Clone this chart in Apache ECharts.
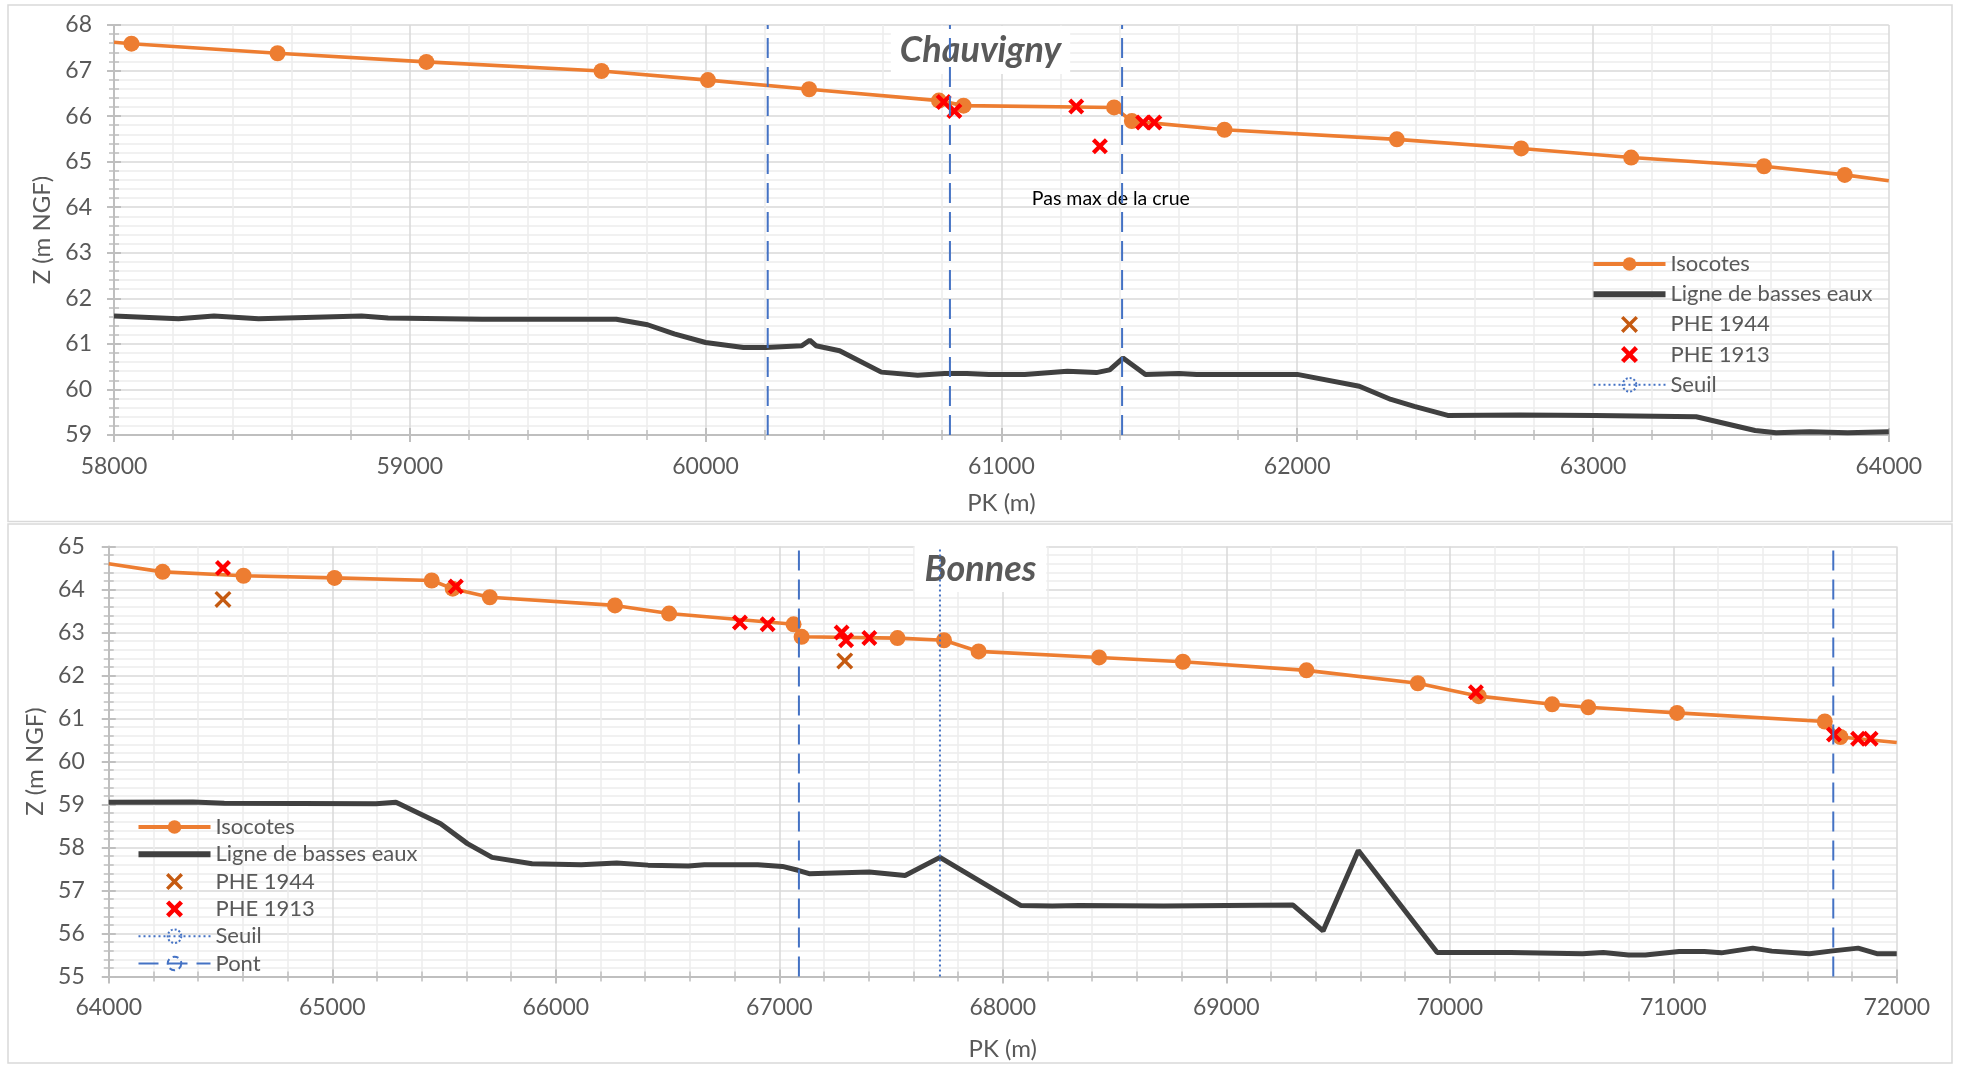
<!DOCTYPE html>
<html><head><meta charset="utf-8">
<script src="https://cdn.jsdelivr.net/npm/echarts@6/dist/echarts.min.js"></script>
<style>html,body{margin:0;padding:0;background:#fff}#c{width:1961px;height:1065px}</style>
</head><body><div id="c"></div>
<script>
// ---------- DATA ----------
// Chauvigny (top)
const topTitle = 'Chauvigny';
const topXRange = [58000, 64000];
const topYRange = [59, 68];
const topIsoX = [58000, 58059, 58553, 59056, 59648, 60008, 60350, 60789, 60872, 61381, 61441, 61754, 62337, 62757, 63129, 63578, 63851, 64000];
const topIsoY = [67.62, 67.59, 67.38, 67.19, 66.99, 66.79, 66.59, 66.34, 66.23, 66.19, 65.89, 65.70, 65.49, 65.29, 65.09, 64.90, 64.71, 64.58];
const topLowX = [58000, 58218, 58338, 58489, 58837, 58927, 59245, 59698, 59804, 59894, 60000, 60128, 60204, 60325, 60352, 60373, 60453, 60594, 60717, 60808, 60883, 60958, 61079, 61223, 61321, 61366, 61411, 61487, 61600, 61660, 61804, 62000, 62210, 62317, 62396, 62509, 62751, 63007, 63349, 63548, 63619, 63733, 63861, 64000];
const topLowY = [61.61, 61.55, 61.61, 61.55, 61.61, 61.57, 61.54, 61.54, 61.42, 61.22, 61.03, 60.92, 60.92, 60.96, 61.08, 60.96, 60.85, 60.38, 60.31, 60.35, 60.35, 60.33, 60.33, 60.40, 60.37, 60.43, 60.69, 60.33, 60.35, 60.33, 60.33, 60.33, 60.07, 59.78, 59.63, 59.43, 59.44, 59.43, 59.40, 59.10, 59.05, 59.07, 59.05, 59.07];
const topPhe1913X = [60805, 60841, 61253, 61333, 61479, 61517];
const topPhe1913Y = [66.31, 66.11, 66.21, 65.34, 65.86, 65.86];
const topPontX = [60210, 60826, 61408];
const topNote = {text: 'Pas max de la crue', x: 61370, y: 64.19};

// Bonnes (bottom)
const botTitle = 'Bonnes';
const botXRange = [64000, 72000];
const botYRange = [55, 65];
const botIsoX = [64000, 64241, 64603, 65010, 65445, 65539, 65705, 66265, 66507, 67064, 67100, 67529, 67737, 67892, 68431, 68806, 69359, 69857, 70130, 70458, 70620, 71017, 71678, 71748, 72000];
const botIsoY = [64.60, 64.41, 64.32, 64.27, 64.21, 64.02, 63.82, 63.63, 63.44, 63.19, 62.90, 62.87, 62.82, 62.56, 62.42, 62.32, 62.12, 61.82, 61.52, 61.33, 61.26, 61.13, 60.93, 60.57, 60.44];
const botLowX = [64000, 64377, 64517, 65196, 65285, 65485, 65605, 65715, 65894, 66114, 66273, 66413, 66593, 66665, 66904, 67014, 67084, 67134, 67403, 67563, 67719, 68082, 68222, 68341, 68720, 69000, 69299, 69433, 69591, 69944, 70273, 70593, 70687, 70800, 70875, 71026, 71139, 71215, 71356, 71441, 71610, 71704, 71827, 71911, 72000];
const botLowY = [59.05, 59.06, 59.03, 59.02, 59.05, 58.55, 58.09, 57.77, 57.62, 57.60, 57.64, 57.59, 57.57, 57.60, 57.60, 57.56, 57.47, 57.39, 57.43, 57.35, 57.77, 56.65, 56.64, 56.65, 56.64, 56.65, 56.66, 56.06, 57.93, 55.56, 55.56, 55.53, 55.56, 55.50, 55.50, 55.58, 55.58, 55.55, 55.66, 55.59, 55.53, 55.59, 55.66, 55.53, 55.53];
const botPhe1913X = [64511, 65553, 66824, 66948, 67279, 67299, 67403, 70117, 71719, 71827, 71883];
const botPhe1913Y = [64.50, 64.07, 63.23, 63.19, 63.00, 62.82, 62.87, 61.61, 60.63, 60.53, 60.53];
const botPhe1944X = [64511, 67293];
const botPhe1944Y = [63.77, 62.34];
const botPontX = [67088, 71716];
const botSeuilX = [67719];

const xName = 'PK (m)';
const yName = 'Z (m NGF)';
const topLegend = ['Isocotes', 'Ligne de basses eaux', 'PHE 1944', 'PHE 1913', 'Seuil'];
const botLegend = ['Isocotes', 'Ligne de basses eaux', 'PHE 1944', 'PHE 1913', 'Seuil', 'Pont'];

// ---------- STYLE ----------
const FONT = 'Lato';
const TXT = '#595959';
const AXIS = '#BFBFBF';
const GMAJ = '#D9D9D9';
const GMIN = '#EDEDED';
const ORANGE = '#ED7D31', DARK = '#404040', RED = '#FF0000', BROWN = '#C55A11', BLUE = '#4472C4';
const CROSS_RED = 'path://M0,3 L3,0 L8,5 L13,0 L16,3 L11,8 L16,13 L13,16 L8,11 L3,16 L0,13 L5,8 Z';
const CROSS_BROWN = 'path://M0,2.3 L2.3,0 L8,5.7 L13.7,0 L16,2.3 L10.3,8 L16,13.7 L13.7,16 L8,10.3 L2.3,16 L0,13.7 L5.7,8 Z';
const legendLook = {
  'Isocotes': {lineStyle: {width: 4}},
  'Ligne de basses eaux': {lineStyle: {width: 6}},
  'Seuil': {lineStyle: {width: 2}, itemStyle: {borderType: [2, 2], borderWidth: 2}},
  'Pont': {lineStyle: {width: 2}, itemStyle: {borderType: [6, 4], borderWidth: 2}}
};

const zip = (xs, ys) => xs.map((x, i) => [x, ys[i]]);

function mainX(g, range, nameGap) {
  return {
    type: 'value', gridIndex: g, min: range[0], max: range[1], interval: 1000, position: 'bottom',
    name: xName, nameLocation: 'middle', nameGap: nameGap,
    nameTextStyle: {fontFamily: FONT, fontSize: 24, color: TXT},
    axisLine: {show: true, onZero: false, lineStyle: {color: AXIS, width: 2}},
    axisTick: {show: true, length: 7, lineStyle: {color: AXIS, width: 2}},
    minorTick: {show: true, splitNumber: 5, length: 5, lineStyle: {color: AXIS, width: 1.5}},
    axisLabel: {margin: 20, fontFamily: FONT, fontSize: 23, color: TXT, formatter: v => String(v)},
    splitLine: {show: true, lineStyle: {color: GMAJ, width: 1.5}},
    minorSplitLine: {show: true, lineStyle: {color: GMIN, width: 1.5}}
  };
}
function dupX(g, range) {
  return {
    type: 'value', gridIndex: g, min: range[0], max: range[1], interval: 1000, position: 'bottom',
    axisLine: {show: false, onZero: false},
    axisTick: {show: true, inside: true, length: 7, lineStyle: {color: AXIS, width: 2}},
    minorTick: {show: true, splitNumber: 5, length: 5, lineStyle: {color: AXIS, width: 1.5}},
    axisLabel: {show: false}, splitLine: {show: false}, minorSplitLine: {show: false}
  };
}
function mainY(g, range, margin, nameGap) {
  return {
    type: 'value', gridIndex: g, min: range[0], max: range[1], interval: 1, position: 'left',
    name: yName, nameLocation: 'middle', nameGap: nameGap, nameRotate: 90,
    nameTextStyle: {fontFamily: FONT, fontSize: 24, color: TXT},
    axisLine: {show: true, onZero: false, lineStyle: {color: AXIS, width: 2}},
    axisTick: {show: true, length: 7, lineStyle: {color: AXIS, width: 2}},
    minorTick: {show: true, splitNumber: 5, length: 5, lineStyle: {color: AXIS, width: 1.5}},
    axisLabel: {margin: margin, fontFamily: FONT, fontSize: 23, color: TXT},
    splitLine: {show: true, lineStyle: {color: GMAJ, width: 1.5}},
    minorSplitLine: {show: true, lineStyle: {color: GMIN, width: 1.5}}
  };
}
function dupY(g, range) {
  return {
    type: 'value', gridIndex: g, min: range[0], max: range[1], interval: 1, position: 'left',
    axisLine: {show: false, onZero: false},
    axisTick: {show: true, inside: true, length: 7, lineStyle: {color: AXIS, width: 2}},
    minorTick: {show: true, splitNumber: 5, length: 5, lineStyle: {color: AXIS, width: 1.5}},
    axisLabel: {show: false}, splitLine: {show: false}, minorSplitLine: {show: false}
  };
}

function isoSeries(g, xs, ys, range) {
  return {
    type: 'line', name: 'Isocotes', xAxisIndex: g, yAxisIndex: g, z: 3,
    symbol: 'circle', symbolSize: 16,
    lineStyle: {color: ORANGE, width: 3.6}, itemStyle: {color: ORANGE},
    data: xs.map((x, i) => (x <= range[0] || x >= range[1]) ? {value: [x, ys[i]], symbol: 'none'} : [x, ys[i]])
  };
}
function lowSeries(g, xs, ys) {
  return {
    type: 'line', name: 'Ligne de basses eaux', xAxisIndex: g, yAxisIndex: g, z: 2,
    symbol: 'none', lineStyle: {color: DARK, width: 5}, itemStyle: {color: DARK, opacity: 0},
    data: zip(xs, ys)
  };
}
function crossSeries(g, name, xs, ys, color, path, size) {
  return {
    type: 'scatter', name: name, xAxisIndex: g, yAxisIndex: g, z: 5,
    symbol: path, symbolSize: size, symbolKeepAspect: true,
    itemStyle: {color: color, opacity: 1}, data: zip(xs, ys)
  };
}
function vlines(g, name, xs, yr, dash, borderDash) {
  return xs.map(x => ({
    type: 'line', name: name, xAxisIndex: g, yAxisIndex: g, z: 6,
    symbol: 'circle', showSymbol: false, symbolSize: 14,
    lineStyle: {color: BLUE, width: 2, type: dash},
    itemStyle: {color: 'rgba(255,255,255,0)', borderColor: BLUE, borderWidth: 2, borderType: borderDash},
    data: [[x, yr[0]], [x, yr[1]]]
  }));
}
function legendData(names) {
  return names.map(n => Object.assign({name: n}, legendLook[n] || {}));
}

const legendText = {fontFamily: FONT, fontSize: 22, color: TXT, lineHeight: 21};

const option = {
  animation: false,
  backgroundColor: '#fff',
  title: [
    {text: topTitle, left: 'center', top: 26, padding: [3, 9], backgroundColor: '#fff',
     textStyle: {fontFamily: FONT, fontSize: 36, fontWeight: 'bold', fontStyle: 'italic', color: TXT, lineHeight: 42}},
    {text: botTitle, left: 'center', top: 546, padding: [2, 10], backgroundColor: '#fff',
     textStyle: {fontFamily: FONT, fontSize: 36, fontWeight: 'bold', fontStyle: 'italic', color: TXT, lineHeight: 42}}
  ],
  graphic: [
    {type: 'rect', silent: true, z: -10, shape: {x: 8, y: 5, width: 1944, height: 516.5}, style: {fill: 'none', stroke: '#D9D9D9', lineWidth: 1.5}},
    {type: 'rect', silent: true, z: -10, shape: {x: 8, y: 524, width: 1944, height: 539}, style: {fill: 'none', stroke: '#D9D9D9', lineWidth: 1.5}}
  ],
  grid: [
    {left: 114, top: 25, width: 1774.8, height: 410},
    {left: 108.75, top: 546.5, width: 1788, height: 430}
  ],
  xAxis: [mainX(0, topXRange, 56), mainX(1, botXRange, 61), dupX(0, topXRange), dupX(1, botXRange)],
  yAxis: [mainY(0, topYRange, 22, 57), mainY(1, botYRange, 24, 59), dupY(0, topYRange), dupY(1, botYRange)],
  legend: [
    {data: legendData(topLegend), orient: 'vertical', left: 1585.5, top: 248, padding: 5, itemWidth: 72, itemHeight: 17, itemGap: 8.2,
     selectedMode: false, textStyle: legendText},
    {data: legendData(botLegend), orient: 'vertical', left: 130.5, top: 811, padding: 5, itemWidth: 72, itemHeight: 17, itemGap: 5.3,
     selectedMode: false, textStyle: legendText}
  ],
  series: [
    isoSeries(0, topIsoX, topIsoY, topXRange),
    lowSeries(0, topLowX, topLowY),
    Object.assign(crossSeries(0, 'PHE 1913', topPhe1913X, topPhe1913Y, RED, CROSS_RED, 16), {
      markPoint: {symbol: 'circle', symbolSize: 1, itemStyle: {color: 'rgba(0,0,0,0)'}, silent: true,
        label: {show: true, position: 'inside', formatter: topNote.text, fontFamily: FONT, fontSize: 19.5, color: '#000'},
        data: [{coord: [topNote.x, topNote.y]}]}
    }),
    ...vlines(0, 'Pont', topPontX, topYRange, [20, 9], [6, 4]),
    isoSeries(1, botIsoX, botIsoY, botXRange),
    lowSeries(1, botLowX, botLowY),
    crossSeries(1, 'PHE 1944', botPhe1944X, botPhe1944Y, BROWN, CROSS_BROWN, 17),
    crossSeries(1, 'PHE 1913', botPhe1913X, botPhe1913Y, RED, CROSS_RED, 16),
    ...vlines(1, 'Seuil', botSeuilX, botYRange, [2, 3], [2, 2]),
    ...vlines(1, 'Pont', botPontX, botYRange, [20, 9], [6, 4])
  ]
};

const chart = echarts.init(document.getElementById('c'), null, {renderer: 'canvas'});
chart.setOption(option);
</script></body></html>
